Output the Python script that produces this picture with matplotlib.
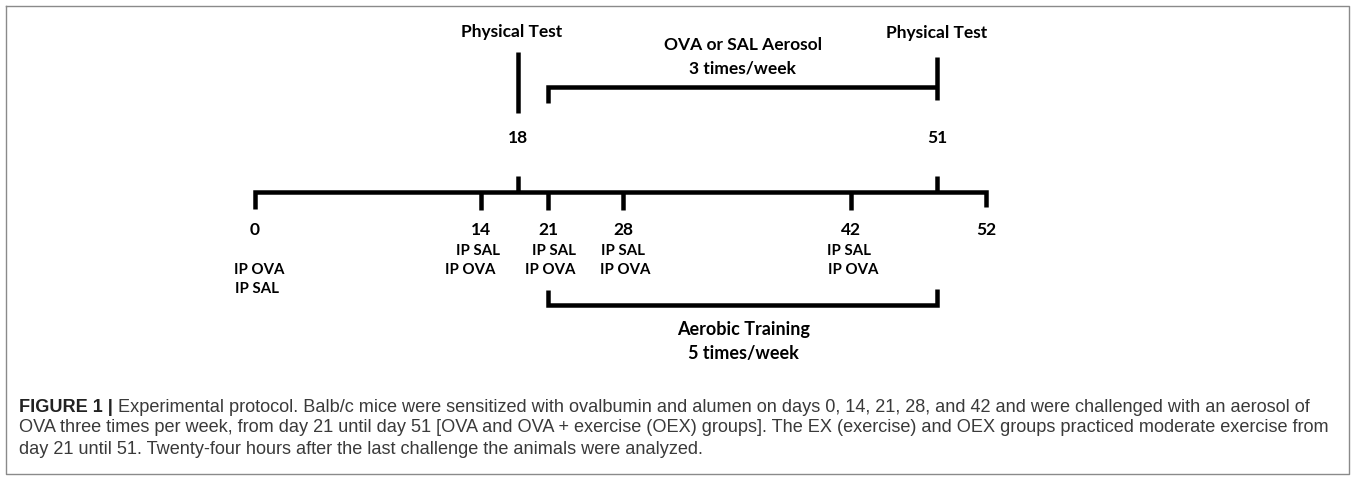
import matplotlib.pyplot as plt

# protocol days
timeline_start, timeline_end = 0, 52
sensitization_days = [0, 14, 21, 28, 42]
test_days = [18, 51]
aerosol_period = [21, 51]
training_period = [21, 51]

test_label = 'Physical Test'
aerosol_label = ['OVA or SAL Aerosol', '3 times/week']
training_label = ['Aerobic Training', '5 times/week']
ip_labels = {
    0: ['IP OVA', 'IP SAL'],
    14: ['IP SAL', 'IP OVA'],
    21: ['IP SAL', 'IP OVA'],
    28: ['IP SAL', 'IP OVA'],
    42: ['IP SAL', 'IP OVA'],
}

caption_bold = 'FIGURE 1 |'
caption_lines = [
    ' Experimental protocol. Balb/c mice were sensitized with ovalbumin and alumen on days 0, 14, 21, 28, and 42 and were challenged with an aerosol of',
    'OVA three times per week, from day 21 until day 51 [OVA and OVA + exercise (OEX) groups]. The EX (exercise) and OEX groups practiced moderate exercise from',
    'day 21 until 51. Twenty-four hours after the last challenge the animals were analyzed.',
]

# schematic layout: the drawing is not to scale, so each day gets a slot (pixels)
day_x = {0: 255, 14: 481, 18: 518, 21: 548, 28: 623, 42: 851, 51: 937, 52: 986}
ip_dx = {0: (4, 2), 14: (-3, -11), 21: (6, 2), 28: (0, 2), 42: (-2, 2)}

LW = 4.5 * 0.72  # ~4.5 px thick strokes
DIAG = dict(family=['Lato', 'DejaVu Sans'], weight='bold', color='black')
CAP = ['Liberation Sans Narrow', 'Liberation Sans', 'DejaVu Sans']
CAP_SIZE = 13.1

fig = plt.figure(figsize=(13.55, 4.8), dpi=100)
ax = fig.add_axes([0, 0, 1, 1])
ax.set_xlim(0, 1355)
ax.set_ylim(480, 0)
ax.axis('off')

line_kw = dict(color='black', lw=LW, solid_joinstyle='miter', solid_capstyle='butt')

# outer frame
ax.plot([6, 1349, 1349, 6, 6], [6, 6, 474, 474, 6], color='#8a8a8a', lw=1.0)

# main timeline with end ticks
x0, x1 = day_x[timeline_start], day_x[timeline_end]
ax.plot([x0, x0, x1, x1], [209, 192, 192, 207], **line_kw)
for d in sensitization_days[1:]:
    ax.plot([day_x[d], day_x[d]], [192, 210], **line_kw)
for d in test_days:
    ax.plot([day_x[d], day_x[d]], [192, 176], **line_kw)

# day numbers
for d in sensitization_days + [timeline_end]:
    ax.text(day_x[d], 230, str(d), ha='center', va='center', fontsize=12.5, **DIAG)
for d in test_days:
    ax.text(day_x[d], 138, str(d), ha='center', va='center', fontsize=12.5, **DIAG)

# IP injections
for d, labs in ip_labels.items():
    y0 = 270 if d == 0 else 251
    for k, lab in enumerate(labs):
        ax.text(day_x[d] + ip_dx[d][k], y0 + 19 * k, lab, ha='center', va='center',
                fontsize=10.8, **DIAG)

# physical tests
ax.plot([day_x[test_days[0]]] * 2, [52, 113], **line_kw)
ax.plot([day_x[test_days[1]]] * 2, [57, 100], **line_kw)
ax.text(day_x[test_days[0]] - 6, 32, test_label, ha='center', va='center', fontsize=12.5, **DIAG)
ax.text(day_x[test_days[1]], 33, test_label, ha='center', va='center', fontsize=12.5, **DIAG)

# aerosol bracket
a0, a1 = day_x[aerosol_period[0]], day_x[aerosol_period[1]]
ax.plot([a0, a0, a1], [103, 87, 87], **line_kw)
ax.text((a0 + a1) / 2, 45, aerosol_label[0], ha='center', va='center', fontsize=12.5, **DIAG)
ax.text((a0 + a1) / 2, 68, aerosol_label[1], ha='center', va='center', fontsize=12.5, **DIAG)

# aerobic training bracket
t0, t1 = day_x[training_period[0]], day_x[training_period[1]]
ax.plot([t0, t0, t1, t1], [290, 305, 305, 289], **line_kw)
ax.text((t0 + t1) / 2 + 1, 330, training_label[0], ha='center', va='center', fontsize=13, **DIAG)
ax.text((t0 + t1) / 2 + 1, 353, training_label[1], ha='center', va='center', fontsize=13, **DIAG)

# caption
cap_y = [407, 428, 449]
head = ax.text(19, cap_y[0], caption_bold, ha='left', va='center', fontsize=CAP_SIZE,
               family=CAP, weight='bold', color='#222222')
ax.annotate(caption_lines[0], xy=(1, 0.5), xycoords=head, ha='left', va='center',
            fontsize=CAP_SIZE, family=CAP, color='#3a3a3a')
for y, line in zip(cap_y[1:], caption_lines[1:]):
    ax.text(19, y, line, ha='left', va='center', fontsize=CAP_SIZE, family=CAP, color='#3a3a3a')

fig.savefig('out.png', dpi=100)
